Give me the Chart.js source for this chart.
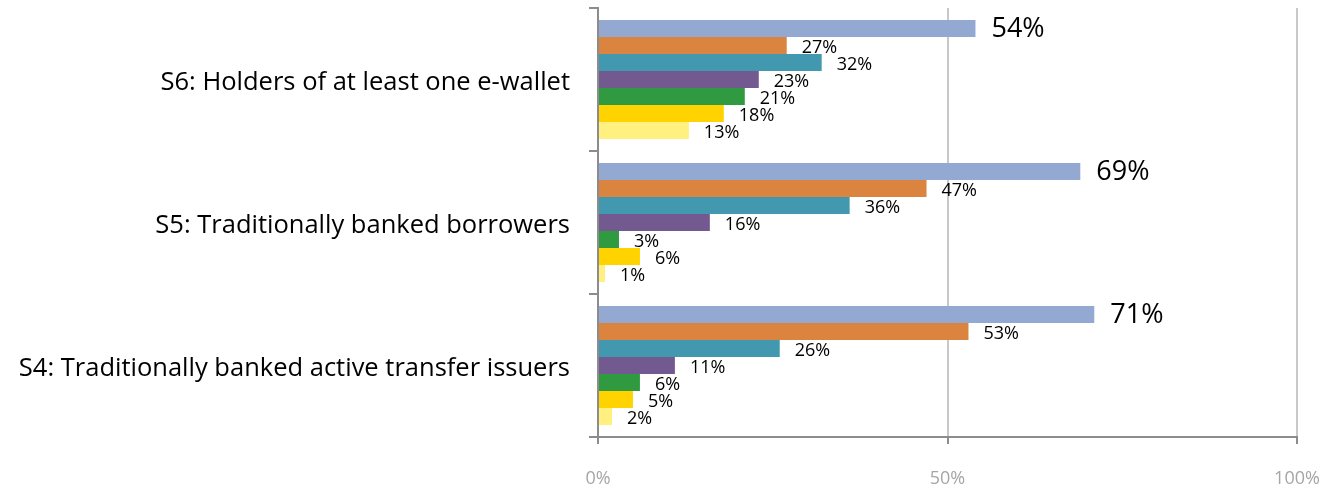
<!DOCTYPE html>
<html>
<head>
<meta charset="utf-8">
<script src="https://cdn.jsdelivr.net/npm/chart.js@4.4.1/dist/chart.umd.min.js"></script>
<style>
  html, body { margin: 0; padding: 0; background: #fff; }
  .chart-container { position: relative; width: 1336px; height: 487px; }
</style>
</head>
<body>
<div class="chart-container">
  <canvas id="segChart"></canvas>
</div>
<script>
// categories top to bottom
const categories = [
  'S6: Holders of at least one e-wallet',
  'S5: Traditionally banked borrowers',
  'S4: Traditionally banked active transfer issuers'
];

// one array per series, in the order of categories (values in %)
const series1 = [54, 69, 71];
const series2 = [27, 47, 53];
const series3 = [32, 36, 26];
const series4 = [23, 16, 11];
const series5 = [21, 3, 6];
const series6 = [18, 6, 5];
const series7 = [13, 1, 2];

const seriesValues = [series1, series2, series3, series4, series5, series6, series7];
const seriesColors = ['#94A9D1', '#DB843F', '#4198AF', '#72598F', '#2F9A40', '#FFD300', '#FFF080'];
const xTickValues = [0, 50, 100];

const FONT = "'Open Sans', 'Noto Sans', sans-serif";

// value labels drawn next to the end of each bar
const valueLabels = {
  id: 'valueLabels',
  afterDatasetsDraw(chart) {
    const ctx = chart.ctx;
    ctx.save();
    ctx.fillStyle = '#000';
    ctx.textAlign = 'left';
    ctx.textBaseline = 'middle';
    chart.data.datasets.forEach((ds, di) => {
      const meta = chart.getDatasetMeta(di);
      meta.data.forEach((bar, i) => {
        const big = di === 0;
        ctx.font = (big ? '27px ' : '18px ') + FONT;
        ctx.fillText(ds.data[i] + '%', bar.x + (big ? 16 : 15), bar.y + (big ? 1 : 2));
      });
    });
    ctx.restore();
  }
};

const segChart = new Chart(document.getElementById('segChart').getContext('2d'), {
  type: 'bar',
  data: {
    labels: categories,
    datasets: seriesValues.map((vals, i) => ({
      label: 'Series ' + (i + 1),
      data: vals,
      backgroundColor: seriesColors[i],
      borderWidth: 0,
      barPercentage: 1,
      categoryPercentage: 0.832
    }))
  },
  options: {
    indexAxis: 'y',
    responsive: true,
    maintainAspectRatio: false,
    animation: false,
    layout: { padding: { top: 8, right: 39, left: 0, bottom: 0 } },
    plugins: {
      legend: { display: false },
      tooltip: { enabled: false }
    },
    scales: {
      x: {
        min: 0,
        max: 100,
        afterBuildTicks: (scale) => { scale.ticks = xTickValues.map(v => ({ value: v })); },
        afterFit: (scale) => {
          scale.height = 50;
          scale.paddingLeft = 0;
          scale.paddingRight = 0;
        },
        ticks: {
          callback: (v) => v + '%',
          color: '#A6A6A6',
          font: { family: FONT, size: 18 },
          padding: 24,
          maxRotation: 0
        },
        grid: {
          color: '#C8C8C8',
          lineWidth: 2,
          tickColor: '#8C8C8C',
          tickLength: 7
        },
        border: { color: '#8C8C8C', width: 2 }
      },
      y: {
        afterFit: (scale) => {
          scale.width = 598;
          scale.paddingTop = 0;
          scale.paddingBottom = 0;
        },
        ticks: {
          color: '#000',
          font: { family: FONT, size: 25.5 },
          padding: 19,
          labelOffset: 3
        },
        grid: {
          offset: true,
          drawOnChartArea: false,
          color: '#8C8C8C',
          lineWidth: 2,
          tickLength: 9
        },
        border: { color: '#8C8C8C', width: 2 }
      }
    }
  },
  plugins: [valueLabels]
});
</script>
</body>
</html>
